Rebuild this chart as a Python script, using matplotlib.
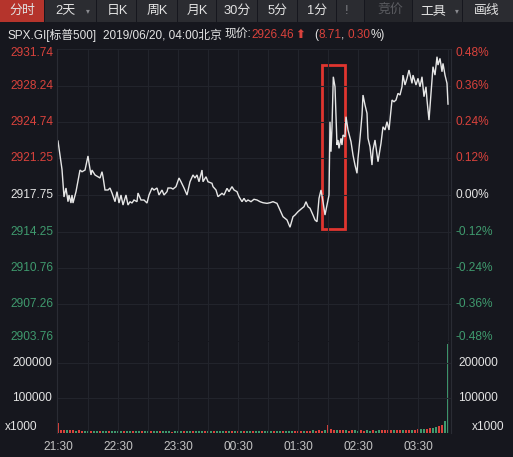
import matplotlib
matplotlib.use('Agg')
import matplotlib.pyplot as plt
from matplotlib.patches import Rectangle
from matplotlib.transforms import blended_transform_factory, offset_copy

# ---------------- data ----------------
price_minutes = [0, 4, 6, 8, 10, 11, 13, 14, 15, 18, 22, 24, 27, 30, 31, 33, 34, 37, 40, 42,
                 44, 45, 47, 50, 52, 54, 57, 59, 61, 63, 65, 68, 70, 72, 74, 76, 79, 80, 83, 86,
                 89, 91, 94, 96, 99, 101, 103, 104, 106, 109, 110, 113, 115, 118, 121, 123, 126, 129, 132, 135,
                 137, 139, 141, 144, 145, 148, 150, 154, 155, 158, 160, 164, 166, 169, 171, 174, 176, 179, 181, 184,
                 186, 188, 190, 193, 196, 199, 202, 205, 209, 212, 215, 219, 222, 225, 229, 232, 235, 237, 240, 244,
                 246, 248, 250, 252, 255, 257, 259, 261, 263, 265, 267, 269, 271, 272, 273, 274, 275.3, 277, 278, 279,
                 280, 281, 283, 284, 285, 287, 288, 290, 293, 295, 297, 299, 300, 302, 304, 305, 307, 309, 310, 312,
                 314, 315, 317, 319, 320, 323, 325, 327, 329, 331, 334, 336, 338, 340, 342, 344, 345, 347, 349, 351,
                 354, 355, 358, 360, 362, 364, 366, 368, 369, 371, 374, 375, 377, 379, 380, 382, 384, 385, 387, 389,
                 390]
price_values = [2922.92, 2920.20, 2917.56, 2918.42, 2917.11, 2917.75, 2916.98, 2917.75, 2916.98, 2918.07,
                2920.14, 2919.98, 2920.14, 2921.49, 2920.82, 2919.67, 2920.14, 2919.67, 2919.50, 2919.38,
                2919.98, 2919.50, 2918.23, 2918.23, 2918.42, 2917.94, 2917.11, 2918.07, 2916.98, 2917.75,
                2916.79, 2917.75, 2916.79, 2917.11, 2916.98, 2917.27, 2917.11, 2917.94, 2917.27, 2917.27,
                2916.98, 2917.75, 2918.42, 2918.23, 2918.42, 2917.75, 2918.07, 2918.23, 2917.75, 2918.07,
                2918.42, 2918.42, 2918.32, 2918.55, 2919.38, 2919.02, 2918.42, 2917.75, 2919.02, 2919.67,
                2919.38, 2919.67, 2919.02, 2920.14, 2919.02, 2919.50, 2919.02, 2918.87, 2918.55, 2918.23,
                2917.59, 2917.91, 2917.75, 2918.39, 2918.07, 2918.55, 2918.23, 2918.07, 2917.59, 2917.11,
                2917.43, 2917.11, 2917.27, 2917.11, 2917.34, 2917.27, 2917.11, 2917.01, 2916.95, 2917.01,
                2917.11, 2916.95, 2916.31, 2915.67, 2915.36, 2914.66, 2915.67, 2915.83, 2916.15, 2916.48,
                2916.63, 2917.11, 2916.63, 2916.48, 2915.83, 2915.36, 2915.19, 2917.43, 2918.23, 2917.11,
                2915.83, 2916.79, 2917.75, 2924.77, 2921.90, 2924.29, 2929.08, 2928.12, 2925.41, 2922.54,
                2923.02, 2922.22, 2923.18, 2922.54, 2923.50, 2923.33, 2925.25, 2923.98, 2922.86, 2921.58,
                2920.62, 2919.83, 2921.27, 2923.18, 2925.41, 2927.33, 2926.37, 2925.58, 2923.18, 2922.38,
                2920.62, 2922.06, 2923.02, 2921.58, 2920.94, 2922.70, 2924.29, 2923.98, 2924.77, 2923.98,
                2926.85, 2926.69, 2926.85, 2927.49, 2927.33, 2928.12, 2929.24, 2928.29, 2928.93, 2929.72,
                2928.45, 2929.24, 2928.29, 2928.93, 2928.12, 2929.08, 2927.17, 2928.12, 2926.85, 2924.93,
                2928.77, 2930.04, 2929.24, 2931.00, 2930.20, 2930.84, 2929.56, 2930.36, 2929.24, 2928.45,
                2926.46]

prev_close = 2917.75
price_levels = [2931.74, 2928.24, 2924.74, 2921.25, 2917.75, 2914.25, 2910.76, 2907.26, 2903.76]
pct_labels = ['0.48%', '0.36%', '0.24%', '0.12%', '0.00%', '-0.12%', '-0.24%', '-0.36%', '-0.48%']

vol_minutes = list(range(0, 391, 3))
vol_values = [30000, 9000, 8500, 8000, 7500, 8000, 7000, 7500, 6500, 7000,
              6500, 6000, 5500, 6000, 5000, 5500, 6000, 5000, 5500, 5000,
              4500, 5000, 5500, 5000, 4500, 5000, 4800, 5200, 4500, 5000,
              4500, 4800, 5000, 4500, 5500, 4800, 4500, 5000, 4200, 4800,
              5000, 4500, 4800, 5200, 4500, 4600, 5000, 4400, 4800, 5000,
              4600, 4800, 5200, 4500, 4800, 5000, 4600, 4400, 4800, 5200,
              5000, 4800, 5500, 5000, 4600, 5200, 5400, 5000, 5600, 5200,
              5000, 5400, 5800, 5500, 6000, 6500, 6200, 6800, 6000, 6500,
              6200, 6800, 6500, 7000, 6600, 7200, 6800, 7500, 7000, 7400,
              22000, 12000, 9000, 8500, 8000, 7500, 8000, 7000, 7500, 7200,
              6800, 7500, 7000, 7400, 6800, 7200, 7000, 7600, 7200, 7800,
              7400, 8000, 7600, 8200, 7800, 8500, 8800, 9500, 9000, 10000,
              10500, 11000, 12000, 11500, 13000, 14000, 16000, 19000, 24000, 35000,
              255000]
vol_dirs = ("uuuduuduud" "dudduddudd" "ddudduddud" "duddudddud" "dduddudddu"
            "ddudddudud" "ududduddud" "dduddudddu" "uuduuduuud" "uuuduuduud"
            "duuddudduu" "uuduuduudu" "udduudduud" "d")

time_ticks = [0, 60, 120, 180, 240, 300, 360]
time_labels = ['21:30', '22:30', '23:30', '00:30', '01:30', '02:30', '03:30']
vol_ticks = [200000, 100000, 0]
vol_labels = ['200000', '100000', 'x1000']

tabs = ['分时', '2天', '日K', '周K', '月K', '30分', '5分', '1分', '!', '竞价', '工具', '画线']

box_minutes = (264, 286.7)
box_prices = (2914.51, 2930.21)

# ---------------- style ----------------
W, H = 513, 457
BG = '#16171e'
WHITE = '#e4e4e4'
RED = '#d9423c'
GREEN = '#3f9a6e'
GRID = '#22242c'
plt.rcParams['font.family'] = ['Liberation Sans', 'Noto Sans CJK SC', 'DejaVu Sans']

fig = plt.figure(figsize=(W / 100, H / 100), dpi=100)
fig.patch.set_facecolor(BG)


def fx(px):
    return px / W


def fy(py):
    return 1 - py / H


# ---------------- header ----------------
tab_edges = [0, 45, 97, 137, 178, 217, 258, 298, 337, 365, 413, 463, 513]
tab_centers = [22, 65, 117, 157, 197, 237, 278, 317, 347, 390, 433, 487]
for i, lab in enumerate(tabs):
    x0, x1 = tab_edges[i], tab_edges[i + 1]
    if i == 0:
        fc = '#b5342c'
    elif lab == '竞价':
        fc = '#24252a'
    else:
        fc = '#2b2c31'
    fig.patches.append(Rectangle((fx(x0), fy(22)), fx(x1 - x0) - fx(1) if i < len(tabs) - 1 else fx(x1 - x0),
                                 22 / H, transform=fig.transFigure, facecolor=fc, edgecolor='none'))
    col = '#5a5b60' if lab == '竞价' else ('#7a7b80' if lab == '!' else '#e2e2e2')
    fig.text(fx(tab_centers[i]), fy(11), lab, color=col, fontsize=9.3, ha='center', va='center')
for cx in (88, 457):
    fig.text(fx(cx), fy(11), '▾', color='#8a8b90', fontsize=5.5, ha='center', va='center',
             family=['DejaVu Sans'])

# info line
renderer = fig.canvas.get_renderer()
parts = [('SPX.GI[标普500]', WHITE, 6), ('2019/06/20, 04:00北京', WHITE, 3), ('现价:', WHITE, 0),
         ('2926.46', RED, 1)]
x = 8
for s, c, gap in parts:
    t = fig.text(fx(x), fy(35), s, color=c, fontsize=8.5, ha='left', va='center')
    x += t.get_window_extent(renderer=renderer).width + gap
t = fig.text(fx(x), fy(35), '⬆', color=RED, fontsize=8.5, ha='left', va='center', family=['DejaVu Sans'],
             fontweight='bold')
x += t.get_window_extent(renderer=renderer).width + 9
for s, c in [('(', WHITE), ('8.71', RED), (', ', WHITE), ('0.30', RED), ('%)', WHITE)]:
    t = fig.text(fx(x), fy(35), s, color=c, fontsize=8.5, ha='left', va='center')
    x += t.get_window_extent(renderer=renderer).width

# ---------------- price panel ----------------
L, R = 57, 451
ax = fig.add_axes([fx(L), fy(341), fx(R - L), (341 - 49) / H])
ax.set_facecolor(BG)
ax.set_xlim(-1, 393)
ax.set_ylim(price_levels[-1], price_levels[0])
ax.set_yticks(price_levels)
ax.set_xticks(list(range(30, 391, 30)))
ax.tick_params(left=False, right=False, bottom=False, top=False, labelleft=False, labelbottom=False)
ax.grid(True, color=GRID, lw=0.8)
for sp in ('top', 'bottom'):
    ax.spines[sp].set_visible(False)
for sp in ('left', 'right'):
    ax.spines[sp].set_color('#2a2c34')
    ax.spines[sp].set_linewidth(0.8)
ax.plot(price_minutes, price_values, color='#e6e6e6', lw=1.0, solid_joinstyle='miter')
ax.add_patch(Rectangle((box_minutes[0], box_prices[0]), box_minutes[1] - box_minutes[0],
                       box_prices[1] - box_prices[0], fill=False, edgecolor='#e0352f', lw=2.0))

base_tr = blended_transform_factory(fig.transFigure, ax.transData)
for i, (lv, pl) in enumerate(zip(price_levels, pct_labels)):
    col = RED if lv > prev_close + 0.01 else (WHITE if abs(lv - prev_close) < 0.01 else GREEN)
    dy = -4 if i == 0 else (4.3 if i == len(price_levels) - 1 else 0)
    tr = offset_copy(base_tr, fig=fig, x=0, y=dy, units='dots')
    ax.text(fx(53), lv, f'{lv:.2f}', transform=tr, color=col, fontsize=8.6, ha='right', va='center')
    ax.text(fx(455), lv, pl, transform=tr, color=col, fontsize=8.6, ha='left', va='center')

# ---------------- volume panel ----------------
axv = fig.add_axes([fx(L), fy(433), fx(R - L), (433 - 342) / H])
axv.set_facecolor(BG)
axv.set_xlim(-1, 393)
axv.set_ylim(0, 260000)
colors = [RED if d == 'u' else GREEN for d in vol_dirs]
axv.bar(vol_minutes, vol_values, width=2.6, color=colors, linewidth=0)
axv.set_yticks([100000, 200000])
axv.set_xticks(list(range(30, 391, 30)))
axv.grid(True, color=GRID, lw=0.8)
axv.tick_params(left=False, right=False, bottom=False, top=False, labelleft=False, labelbottom=False)
for sp in ('top', 'bottom'):
    axv.spines[sp].set_visible(False)
for sp in ('left', 'right'):
    axv.spines[sp].set_color('#2a2c34')
    axv.spines[sp].set_linewidth(0.8)

vtr = blended_transform_factory(fig.transFigure, axv.transData)
for v, s in zip(vol_ticks, vol_labels):
    dy = 6 if v == 0 else 0
    tr = offset_copy(vtr, fig=fig, x=0, y=dy, units='dots')
    axv.text(fx(5 if v == 0 else 12), v, s, transform=tr, color=WHITE, fontsize=8.6, ha='left', va='center')
    axv.text(fx(472 if v == 0 else 458), v, s, transform=tr, color=WHITE, fontsize=8.6, ha='left', va='center')

# time labels
ttr = blended_transform_factory(axv.transData, fig.transFigure)
for m, s in zip(time_ticks, time_labels):
    axv.text(m, fy(446.5), s, transform=ttr, color='#c4c4c4', fontsize=8.6, ha='center', va='center')

fig.savefig('out.png', dpi=100, facecolor=BG)
